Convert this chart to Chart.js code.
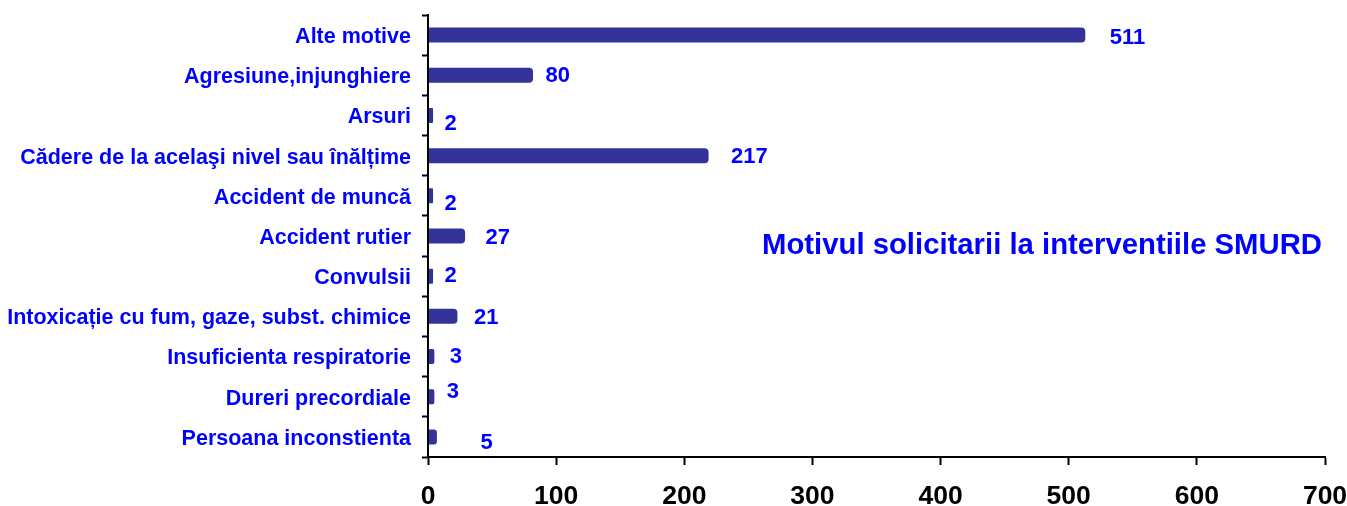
<!DOCTYPE html>
<html>
<head>
<meta charset="utf-8">
<script src="https://cdn.jsdelivr.net/npm/chart.js@4"></script>
<style>
  html, body { margin: 0; padding: 0; background: #fff; }
  #wrap { width: 1347px; height: 506px; }
</style>
</head>
<body>
<div id="wrap"><canvas id="c" width="1347" height="506"></canvas></div>
<script>
const categories = [
  "Alte motive",
  "Agresiune,injunghiere",
  "Arsuri",
  "Cădere de la acelaşi nivel sau înălțime",
  "Accident de muncă",
  "Accident rutier",
  "Convulsii",
  "Intoxicație cu fum, gaze, subst. chimice",
  "Insuficienta respiratorie",
  "Dureri precordiale",
  "Persoana inconstienta"
];
const values = [511, 80, 2, 217, 2, 27, 2, 21, 3, 3, 5];
const xTicks = [0, 100, 200, 300, 400, 500, 600, 700];
const chartTitle = "Motivul solicitarii la interventiile SMURD";

// label nudges (style only): horizontal gap after bar end, vertical shift
const labelDx = [27, 15, 14, 25, 14, 23, 14, 19, 18, 15, 46];
const labelDy = [2, 0, 7, 0, 7, 1, -1, 1, -1, -6, 5];

const FONT = "'Liberation Sans', Arial, sans-serif";
const BLUE = "#0000FF";

const valueLabels = {
  id: 'valueLabels',
  afterDatasetsDraw(chart) {
    const ctx = chart.ctx;
    const meta = chart.getDatasetMeta(0);
    ctx.save();
    ctx.font = "bold 22px " + FONT;
    ctx.fillStyle = BLUE;
    ctx.textAlign = "left";
    ctx.textBaseline = "middle";
    const xs = chart.scales.x;
    meta.data.forEach((bar, i) => {
      const end = xs.getPixelForValue(values[i]);
      ctx.fillText(String(values[i]), end + labelDx[i], bar.y + labelDy[i] + 1);
    });
    // chart title inside plot area
    ctx.font = "bold 29.3px " + FONT;
    ctx.textAlign = "right";
    ctx.fillText(chartTitle, chart.chartArea.right - 3, 246);
    ctx.restore();
  }
};

new Chart(document.getElementById('c'), {
  type: 'bar',
  data: {
    labels: categories,
    datasets: [{
      data: values,
      backgroundColor: "#333399",
      borderColor: "#333399",
      borderWidth: 0,
      barThickness: 10,
      inflateAmount: 2.5,
      borderRadius: 4,
      borderSkipped: 'start'
    }]
  },
  options: {
    indexAxis: 'y',
    responsive: false,
    animation: false,
    devicePixelRatio: 1,
    layout: { padding: { top: 15, right: 22, left: 0, bottom: 0 } },
    plugins: {
      legend: { display: false },
      tooltip: { enabled: false },
      title: { display: false }
    },
    scales: {
      x: {
        type: 'linear',
        min: 0,
        max: 700,
        afterBuildTicks(scale) { scale.ticks = xTicks.map(v => ({ value: v })); },
        afterFit(scale) { scale.height = 49; scale.paddingLeft = 0; scale.paddingRight = 0; },
        border: { display: true, color: '#000', width: 2, z: 1 },
        grid: { drawOnChartArea: false, drawTicks: true, tickLength: 8, tickWidth: 2, tickColor: '#000', color: '#000' },
        ticks: { color: '#000', font: { family: FONT, size: 26.5, weight: 'bold' }, padding: 16, maxRotation: 0 }
      },
      y: {
        afterFit(scale) { scale.width = 428; scale.paddingTop = 0; scale.paddingBottom = 0; },
        border: { display: true, color: '#000', width: 2, z: 1 },
        grid: { drawOnChartArea: false, drawTicks: true, tickLength: 6, tickWidth: 2, tickColor: '#000', color: '#000', offset: true },
        ticks: { color: BLUE, font: { family: FONT, size: 21.5, weight: 'bold' }, padding: 11, autoSkip: false, labelOffset: 2 }
      }
    }
  },
  plugins: [valueLabels]
});
</script>
</body>
</html>
